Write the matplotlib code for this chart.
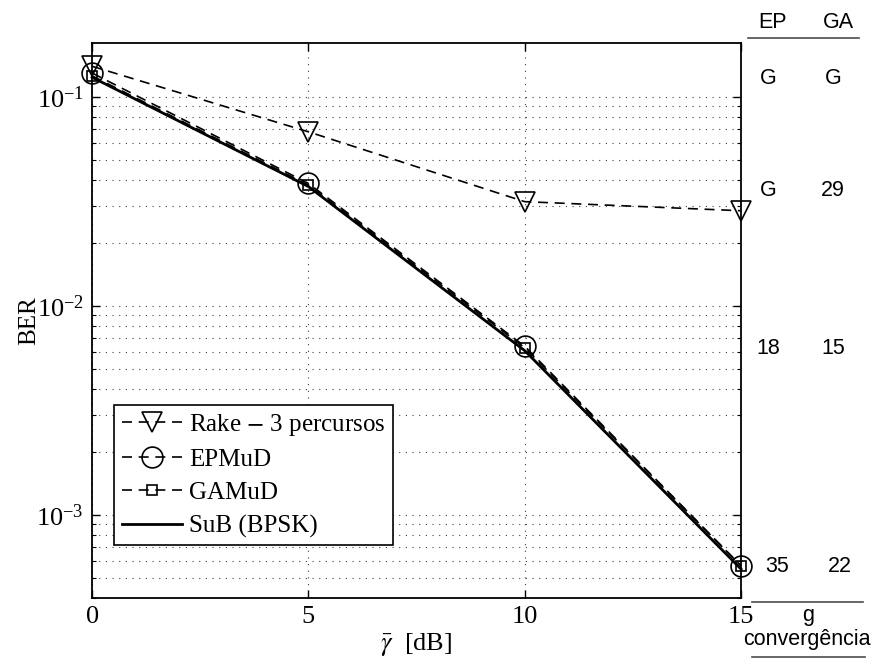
import numpy as np
import matplotlib
matplotlib.use("Agg")
import matplotlib.pyplot as plt
from matplotlib.ticker import LogLocator, NullFormatter

plt.rcParams['font.family'] = ['Liberation Serif', 'DejaVu Serif']
plt.rcParams['mathtext.fontset'] = 'stix'

# SNR points [dB]
snr = [0, 5, 10, 15]

# BER curves
ber_rake = [0.140, 0.068, 0.0315, 0.0285]
ber_epmud = [0.130, 0.0385, 0.0064, 0.00057]
ber_gamud = [0.126, 0.0378, 0.0063, 0.00057]
ber_sub = [0.124, 0.0372, 0.0061, 0.00055]

labels = ['Rake $-$ 3 percursos', 'EPMuD', 'GAMuD', 'SuB (BPSK)']

# side table: generations to convergence (EP, GA)
tab_head = ['EP', 'GA']
tab_ep = ['G', 'G', '18', '35']
tab_ga = ['G', '29', '15', '22']

fig = plt.figure(figsize=(8.77, 6.65), dpi=100)
ax = fig.add_axes([0.105, 0.1008, 0.740, 0.8346])

dash = (0, (6, 4))
ax.semilogy(snr, ber_rake, color='k', lw=1.2, linestyle=dash, marker='v',
            ms=15, mfc='none', mec='k', mew=1.2, label=labels[0], clip_on=False)
ax.semilogy(snr, ber_epmud, color='k', lw=1.2, linestyle=dash, marker='o',
            ms=15, mfc='none', mec='k', mew=1.2, label=labels[1], clip_on=False)
ax.semilogy(snr, ber_gamud, color='k', lw=1.2, linestyle=dash, marker='s',
            ms=7, mfc='none', mec='k', mew=1.2, label=labels[2], clip_on=False)
ax.semilogy(snr, ber_sub, color='k', lw=2.0, linestyle='-', label=labels[3],
            clip_on=False)

ax.set_xlim(0, 15)
ax.set_ylim(4e-4, 0.181)
ax.set_xticks([0, 5, 10, 15])
ax.yaxis.set_major_locator(LogLocator(base=10, numticks=10))
ax.yaxis.set_minor_locator(LogLocator(base=10, subs=np.arange(2, 10), numticks=20))
ax.yaxis.set_minor_formatter(NullFormatter())

dots = dict(linestyle=(0, (1, 5)), color='0.25', lw=0.8)
ax.grid(True, which='major', axis='both', **dots)
ax.grid(True, which='minor', axis='y', **dots)

ax.tick_params(which='both', direction='in', top=True, right=True, labelsize=19)
ax.tick_params(which='major', length=6, width=1, pad=6)
ax.tick_params(which='minor', length=3, width=0.8)
for s in ax.spines.values():
    s.set_linewidth(1.3)

ax.set_ylabel('BER', fontsize=18)
ax.yaxis.set_label_coords(-0.08, 0.5)
ax.set_xlabel(r'$\bar{\gamma}$  [dB]', fontsize=19, labelpad=2)

leg = ax.legend(loc='lower left', bbox_to_anchor=(0.034, 0.095), fontsize=18,
                handlelength=2.4, handletextpad=0.3, borderpad=0.3,
                labelspacing=0.42, fancybox=False, framealpha=1,
                edgecolor='k', borderaxespad=0)
leg.get_frame().set_linewidth(1.2)

# side table in figure pixel coordinates
W, H = 877, 665
sans = ['Liberation Sans', 'DejaVu Sans']
def ftxt(x, y, s, **kw):
    fig.text(x / W, 1 - y / H, s, ha='center', va='center', family=sans,
             fontsize=15.5, **kw)

def fline(x0, x1, y):
    fig.add_artist(plt.Line2D([x0 / W, x1 / W], [1 - y / H, 1 - y / H],
                              color='0.3', lw=1.2))

ftxt(772, 22, tab_head[0])
ftxt(838, 22, tab_head[1])
fline(748, 859, 38)
rows_y = [78, 190, 348, 567]
ep_x = [768, 768, 768, 777]
ga_x = [833, 833, 833, 840]
for i in range(len(rows_y)):
    ftxt(ep_x[i], rows_y[i], tab_ep[i])
    ftxt(ga_x[i], rows_y[i], tab_ga[i])
fline(752, 863, 602)
ftxt(808, 616, 'g')
ftxt(807, 639, 'convergência')
fline(752, 865, 657)

fig.savefig('out.png', dpi=100)
